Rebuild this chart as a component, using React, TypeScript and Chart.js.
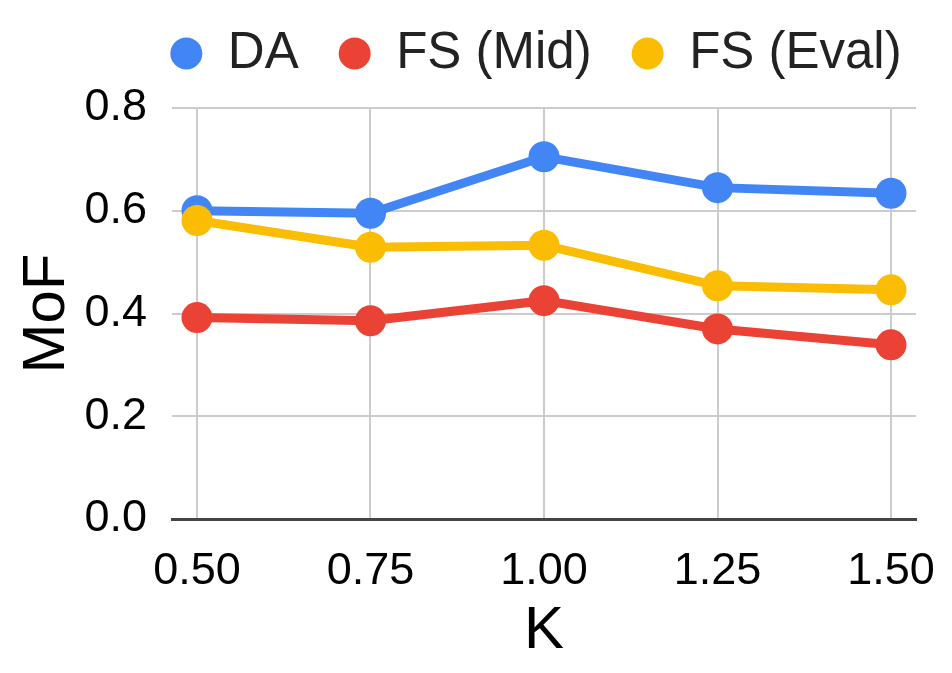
import { useEffect, useRef } from "react";
import Chart from "chart.js/auto";

const kValues = [0.5, 0.75, 1.0, 1.25, 1.5];
const daValues = [0.6, 0.595, 0.705, 0.645, 0.634];
const fsMidValues = [0.392, 0.386, 0.425, 0.37, 0.339];
const fsEvalValues = [0.581, 0.529, 0.533, 0.454, 0.446];
const yTicks = [0, 0.2, 0.4, 0.6, 0.8];

const FONT = "'Liberation Sans', Arial, sans-serif";

// nudge the legend so it sits over the plot like the original
const legendNudge = {
  id: "legendNudge",
  afterLayout(chart: any) {
    const l = chart.legend;
    if (!l) return;
    l.left += 78;
    l.right += 78;
    l.top -= 19;
    l.bottom -= 19;
  },
};

export default function App() {
  const canvasRef = useRef<HTMLCanvasElement | null>(null);
  const chartRef = useRef<Chart | null>(null);

  useEffect(() => {
    document.body.style.margin = "0";
    const canvas = canvasRef.current;
    if (!canvas) return;

    const toPoints = (vals: number[]) => vals.map((v, i) => ({ x: kValues[i], y: v }));
    const series = [
      { label: "DA", data: daValues, color: "#4285F4", order: 3 },
      { label: "FS (Mid)", data: fsMidValues, color: "#EA4335", order: 2 },
      { label: "FS (Eval)", data: fsEvalValues, color: "#FBBC04", order: 1 },
    ];

    chartRef.current = new Chart(canvas, {
      type: "line",
      data: {
        datasets: series.map((s) => ({
          label: s.label,
          data: toPoints(s.data),
          borderColor: s.color,
          backgroundColor: s.color,
          pointBackgroundColor: s.color,
          pointBorderWidth: 0,
          pointRadius: 15.5,
          borderWidth: 9,
          tension: 0,
          order: s.order,
        })),
      },
      plugins: [legendNudge],
      options: {
        animation: false,
        responsive: true,
        maintainAspectRatio: false,
        layout: { padding: { top: 7, right: 36, bottom: 0, left: 0 } },
        plugins: {
          tooltip: { enabled: false },
          legend: {
            position: "top",
            align: "center",
            labels: {
              usePointStyle: true,
              pointStyle: "circle",
              boxWidth: 32,
              boxHeight: 22.6,
              padding: 40,
              color: "#222222",
              font: { family: FONT, size: 51 },
              sort: (a: any, b: any) => a.datasetIndex - b.datasetIndex,
            },
          },
        },
        scales: {
          x: {
            type: "linear",
            min: 0.464,
            max: 1.536,
            afterBuildTicks: (scale: any) => {
              scale.ticks = kValues.map((v) => ({ value: v }));
            },
            afterFit: (scale: any) => {
              scale.height = 154;
              scale.paddingLeft = 0;
              scale.paddingRight = 0;
            },
            grid: { color: "#cccccc", lineWidth: 2, drawTicks: false },
            border: { display: true, color: "#444444", width: 3 },
            ticks: {
              color: "#000000",
              padding: 26,
              font: { family: FONT, size: 45 },
              callback: (v: any) => Number(v).toFixed(2),
            },
            title: {
              display: true,
              text: "K",
              color: "#000000",
              font: { family: FONT, size: 60 },
              padding: { top: 0, bottom: 6 },
            },
          },
          y: {
            min: 0,
            max: 0.8,
            afterBuildTicks: (scale: any) => {
              scale.ticks = yTicks.map((v) => ({ value: v }));
            },
            afterFit: (scale: any) => {
              scale.width = 172;
            },
            grid: { color: "#cccccc", lineWidth: 2, drawTicks: false },
            border: { display: false },
            ticks: {
              color: "#000000",
              padding: 25,
              font: { family: FONT, size: 45 },
              callback: (v: any) => Number(v).toFixed(1),
            },
            title: {
              display: true,
              text: "MoF",
              color: "#000000",
              font: { family: FONT, size: 60 },
              padding: { top: 11, bottom: 0 },
            },
          },
        },
      },
    });

    return () => {
      if (chartRef.current) {
        chartRef.current.destroy();
        chartRef.current = null;
      }
    };
  }, []);

  return (
    <div style={{ position: "fixed", left: 0, top: 0, width: 952, height: 673, background: "#ffffff" }}>
      <canvas ref={canvasRef} />
    </div>
  );
}
